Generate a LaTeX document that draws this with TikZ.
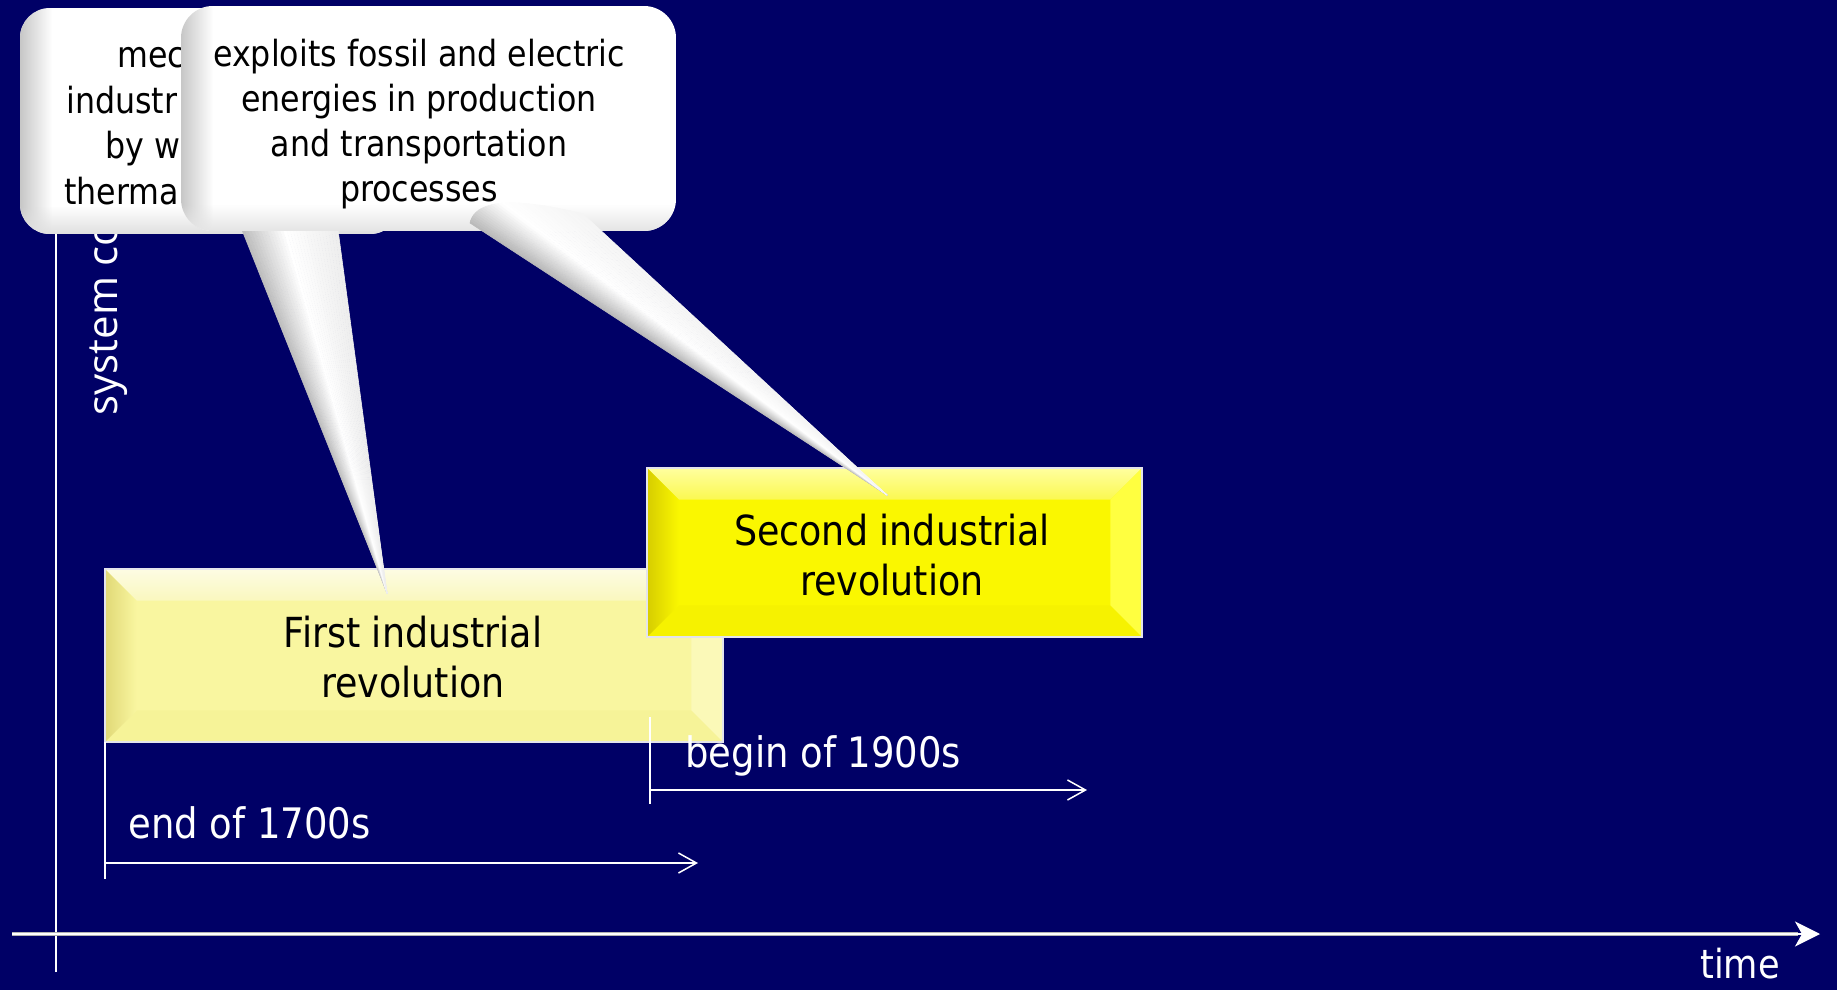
\documentclass[tikz,border=0pt]{standalone}
\usepackage{fontspec}
\setmainfont{DejaVu Sans}[FakeStretch=0.88]
\newfontfamily\axisfont{Open Sans}
\usetikzlibrary{arrows.meta,calc,fadings}

\definecolor{navy}{RGB}{0,0,102}
% pale yellow box
\definecolor{paleface}{RGB}{249,246,160}
\definecolor{paletop}{RGB}{253,252,228}
\definecolor{paleleft}{RGB}{224,216,118}
\definecolor{palebottom}{RGB}{246,243,152}
\definecolor{paleright}{RGB}{251,249,184}
% bright yellow box
\definecolor{brightface}{RGB}{250,247,0}
\definecolor{brighttop}{RGB}{255,255,160}
\definecolor{brightleft}{RGB}{214,204,0}
\definecolor{brightbottom}{RGB}{246,242,0}
\definecolor{brightright}{RGB}{255,255,64}
\definecolor{boxedgecol}{RGB}{228,228,236}

% bevel frame around a rectangular node: name, width, top colour, left (shading keys), bottom, right
\newcommand\bevelframe[6]{%
  \shade[top color=#3, bottom color=#5!50!#3] (#1.north west) -- (#1.north east) -- ($(#1.north east)+(-#2,#2)$) -- ($(#1.north west)+(#2,#2)$) -- cycle;
  \fill[#5] (#1.south west) -- (#1.south east) -- ($(#1.south east)+(-#2,-#2)$) -- ($(#1.south west)+(#2,-#2)$) -- cycle;
  \fill[#6] (#1.north east) -- (#1.south east) -- ($(#1.south east)+(-#2,-#2)$) -- ($(#1.north east)+(-#2,#2)$) -- cycle;
  \shade[#4] (#1.north west) -- (#1.south west) -- ($(#1.south west)+(#2,-#2)$) -- ($(#1.north west)+(#2,#2)$) -- cycle;
  \draw[boxedgecol, line width=1pt] (#1.north west) rectangle (#1.south east);
}

\begin{document}
\begin{tikzpicture}[x=0.5pt,y=-0.5pt,
  spanline/.style={white, line width=0.75pt},
  spanarrow/.style={spanline, -{Straight Barb[length=9pt,width=10pt,line width=0.75pt]}},
  boxtext/.style={font=\fontsize{20.7}{25}\selectfont, align=center, text=black, inner sep=0pt},
  calltext/.style={font=\fontsize{18}{22.5}\selectfont, text=black, inner sep=0pt},
  spanlabel/.style={font=\fontsize{21}{25}\selectfont, text=white, inner sep=0pt},
]
% background
\fill[navy] (0,0) rectangle (1837,990);
\useasboundingbox (0,0) rectangle (1837,990);

% axes
\coordinate (xstart) at (12,934);
\coordinate (xend) at (1820,934);
\coordinate (ybottom) at (56,972);
\coordinate (ytop) at (56,120);
\draw[white, line width=1pt] (ybottom) -- (ytop);
\draw[black!30, line width=2.1pt] (xstart) -- ($(xend)+(-22,0)$);
\draw[white, line width=1.1pt, -{Stealth[length=12.5pt,width=12.5pt,inset=3.5pt]}] (xstart) -- (xend);
\node[font=\fontsize{20}{24}\selectfont, text=white, anchor=base, inner sep=0pt] (timelab) at (1740,978) {time};
\node[rotate=90, anchor=base west, inner sep=0pt, text=white,
      font=\axisfont\fontsize{21}{25}\selectfont] (ylab) at (117,416) {system co};

% first revolution box
\node[fill=paleface, minimum width=309pt, minimum height=86.5pt, inner sep=0pt] (first) at (414,655.5) {};
\bevelframe{first}{32}{paletop}{left color=paleleft, right color=paleface}{palebottom}{paleright}
\node[boxtext] (firsttext) at (413,657) {First industrial\\revolution};

% second revolution box
\node[fill=brightface, minimum width=247.5pt, minimum height=84.5pt, inner sep=0pt] (second) at (894.5,552.5) {};
\bevelframe{second}{32}{brighttop}{left color=brightleft, right color=brightface}{brightbottom}{brightright}
\node[boxtext] (secondtext) at (892,555) {Second industrial\\revolution};

% time spans
\coordinate (spanAtop) at (105,742);
\coordinate (spanAbot) at (105,879);
\coordinate (spanAstart) at (105,863);
\coordinate (spanAend) at (698,863);
\draw[spanline] (spanAtop) -- (spanAbot);
\draw[spanarrow] (spanAstart) -- (spanAend);
\node[spanlabel, anchor=base west] (spanAlab) at (128,838) {end of 1700s};

\coordinate (spanBtop) at (650,717);
\coordinate (spanBbot) at (650,804);
\coordinate (spanBstart) at (650,790);
\coordinate (spanBend) at (1087,790);
\draw[spanline] (spanBtop) -- (spanBbot);
\draw[spanarrow] (spanBstart) -- (spanBend);
\node[spanlabel, anchor=base west] (spanBlab) at (685,767) {begin of 1900s};

% left callout
\begin{scope}
  \clip[rounded corners=15pt] (20,8) rectangle (400,234);
  \fill[white] (20,8) rectangle (400,234);
  \fill[black!22, path fading=east] (20,8) rectangle (52,234);
  \fill[black!12, path fading=north] (20,206) rectangle (400,234);
\end{scope}
\node[calltext, anchor=base west] (la) at (117,68) {mec};
\node[calltext, anchor=base west] (lb) at (66,114) {industr};
\node[calltext, anchor=base west] (lc) at (105,159) {by w};
\node[calltext, anchor=base west] (ld) at (64,205) {therma};

% tail of the left callout
\coordinate (tipA) at (387,593);
\coordinate (baseAL) at (236,215);
\coordinate (baseAR) at (336,215);
\foreach \i in {0,...,29} {
  \pgfmathsetmacro\fa{\i/30}
  \pgfmathsetmacro\fb{(\i+1)/30}
  \pgfmathsetmacro\fm{(\i+0.5)/30}
  \pgfmathsetmacro\g{\fm<0.45 ? 26*(1-\fm/0.45) : 7*(\fm-0.45)/0.55}
  \fill[black!\g, draw=black!\g, line width=0.3pt, line join=round]
    (tipA) -- ($(baseAL)!\fa!(baseAR)$) -- ($(baseAL)!\fb!(baseAR)$) -- cycle;
}

% right callout
\begin{scope}
  \clip[rounded corners=16pt] (181,6) rectangle (676,231);
  \fill[white] (181,6) rectangle (676,231);
  \fill[black!22, path fading=east] (181,6) rectangle (213,231);
  \fill[black!10, path fading=north] (181,204) rectangle (676,231);
\end{scope}
\node[calltext, align=center] (energy) at (419,124)
  {exploits fossil and electric\\energies in production\\and transportation\\processes};

% tail of the right callout
\coordinate (tipB) at (887,495);
\foreach \i in {0,...,29} {
  \pgfmathsetmacro\fa{\i/30}
  \pgfmathsetmacro\fb{(\i+1)/30}
  \pgfmathsetmacro\fm{(\i+0.5)/30}
  \pgfmathsetmacro\xa{(1-\fa)^2*470 + 2*\fa*(1-\fa)*478 + \fa^2*583}
  \pgfmathsetmacro\ya{(1-\fa)^2*223 + 2*\fa*(1-\fa)*188 + \fa^2*214}
  \pgfmathsetmacro\xb{(1-\fb)^2*470 + 2*\fb*(1-\fb)*478 + \fb^2*583}
  \pgfmathsetmacro\yb{(1-\fb)^2*223 + 2*\fb*(1-\fb)*188 + \fb^2*214}
  \pgfmathsetmacro\g{\fm<0.5 ? 28*(1-\fm/0.5) : 4*(\fm-0.5)/0.5}
  \fill[black!\g, draw=black!\g, line width=0.3pt, line join=round]
    (tipB) -- (\xa,\ya) -- (\xb,\yb) -- cycle;
}
\end{tikzpicture}
\end{document}
